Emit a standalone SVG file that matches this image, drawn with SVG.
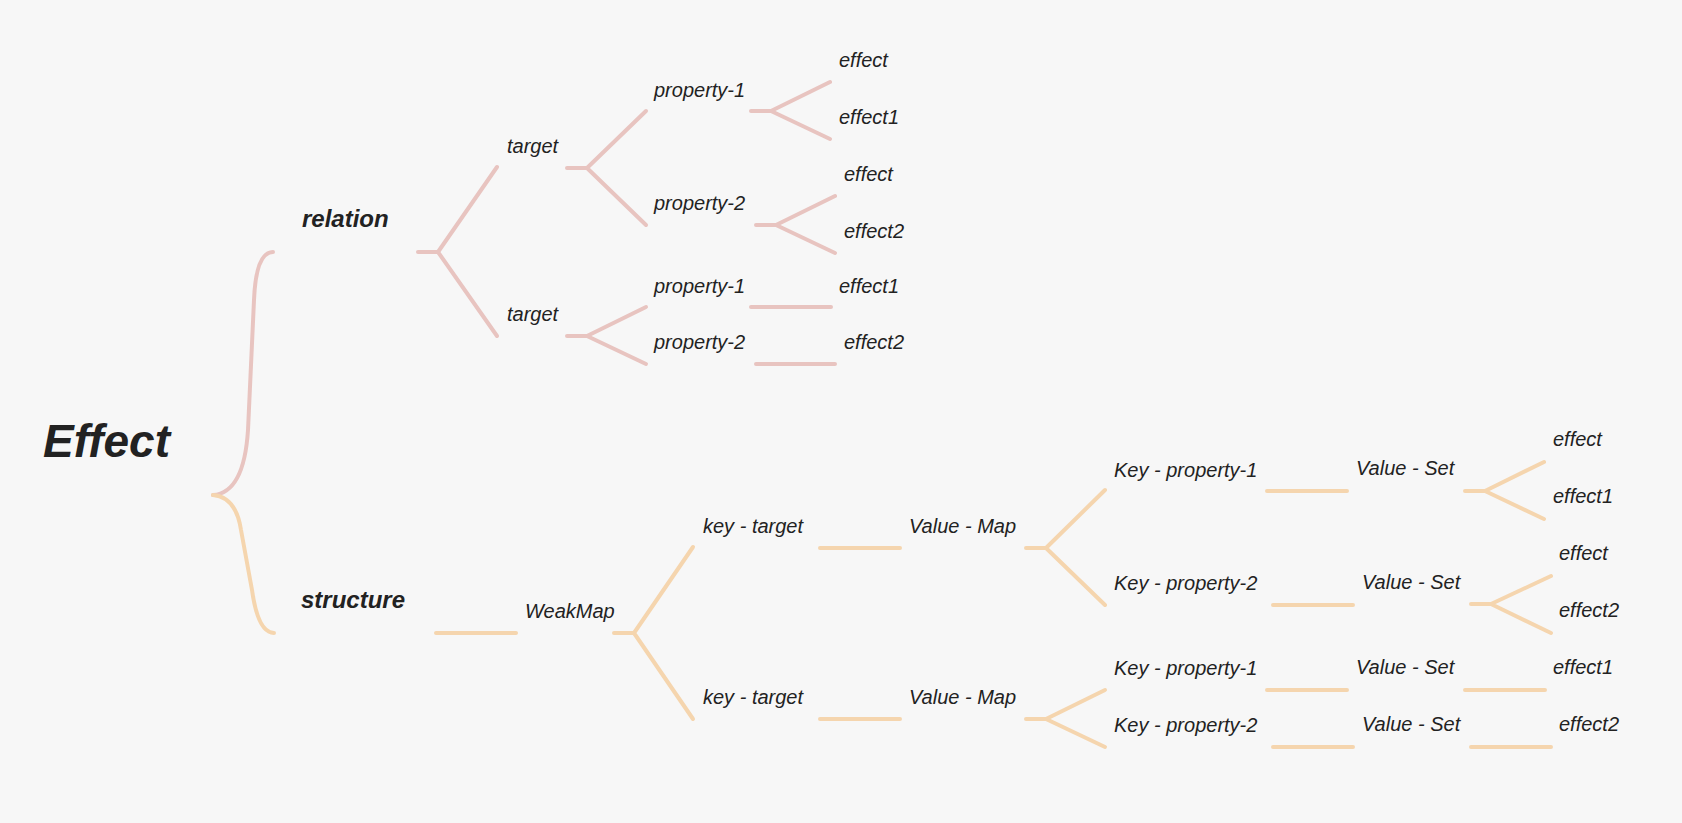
<svg xmlns="http://www.w3.org/2000/svg" width="1682" height="823" viewBox="0 0 1682 823">
<style>
text{font-family:"Liberation Sans",Arial,sans-serif;fill:#222;font-style:italic}
.lbl{font-size:20px}
.hd{font-size:24px;font-weight:bold}
.root{font-size:46px;font-weight:bold}
.pk{stroke:#E8C4C0;stroke-width:4;fill:none;stroke-linecap:round;stroke-linejoin:round}
.og{stroke:#F5D5AE;stroke-width:4;fill:none;stroke-linecap:round;stroke-linejoin:round}
</style>
<rect x="0" y="0" width="1682" height="823" fill="#F7F7F7"/>
<g id="connectors">
<path class="pk" d="M273,252 Q256,252 254,300 L248,430 Q244,493 213,495"/>
<path class="og" d="M213,495 Q236,497 241,530 L252,590 Q258,633 274,633"/>
<path class="pk" d="M418,252 H438 L497,167 M438,252 L497,336"/>
<path class="pk" d="M567,168 H587 L646,111 M587,168 L646,225"/>
<path class="pk" d="M751,111 H771 L830,82 M771,111 L830,139"/>
<path class="pk" d="M756,225 H776 L835,196 M776,225 L835,253"/>
<path class="pk" d="M567,336 H587 L646,307 M587,336 L646,364"/>
<path class="pk" d="M751,307 H831 M756,364 H835"/>
<path class="og" d="M436,633 H516"/>
<path class="og" d="M614,633 H634 L693,547 M634,633 L693,719"/>
<path class="og" d="M820,548 H900 M820,719 H900"/>
<path class="og" d="M1026,548 H1046 L1105,490 M1046,548 L1105,605"/>
<path class="og" d="M1026,719 H1046 L1105,690 M1046,719 L1105,747"/>
<path class="og" d="M1267,491 H1347 M1273,605 H1353 M1267,690 H1347 M1273,747 H1353"/>
<path class="og" d="M1465,491 H1485 L1544,462 M1485,491 L1544,519"/>
<path class="og" d="M1471,604 H1491 L1551,576 M1491,604 L1551,633"/>
<path class="og" d="M1465,690 H1545 M1471,747 H1551"/>
</g>
<g id="root"><text class="root" x="43" y="457">Effect</text></g>
<g id="relation"><text class="hd" x="302" y="227">relation</text></g>
<g id="structure"><text class="hd" x="301" y="608">structure</text></g>
<g id="r-target-1"><text class="lbl" x="507" y="153">target</text></g>
<g id="r-target-2"><text class="lbl" x="507" y="321">target</text></g>
<g id="r-t1-p1"><text class="lbl" x="654" y="97">property-1</text></g>
<g id="r-t1-p2"><text class="lbl" x="654" y="210">property-2</text></g>
<g id="r-t2-p1"><text class="lbl" x="654" y="293">property-1</text></g>
<g id="r-t2-p2"><text class="lbl" x="654" y="349">property-2</text></g>
<g id="r-e1"><text class="lbl" x="839" y="67">effect</text></g>
<g id="r-e2"><text class="lbl" x="839" y="124">effect1</text></g>
<g id="r-e3"><text class="lbl" x="844" y="181">effect</text></g>
<g id="r-e4"><text class="lbl" x="844" y="238">effect2</text></g>
<g id="r-e5"><text class="lbl" x="839" y="293">effect1</text></g>
<g id="r-e6"><text class="lbl" x="844" y="349">effect2</text></g>
<g id="weakmap"><text class="lbl" x="525" y="618">WeakMap</text></g>
<g id="s-key-1"><text class="lbl" x="703" y="533">key - target</text></g>
<g id="s-key-2"><text class="lbl" x="703" y="704">key - target</text></g>
<g id="s-map-1"><text class="lbl" x="909" y="533">Value - Map</text></g>
<g id="s-map-2"><text class="lbl" x="909" y="704">Value - Map</text></g>
<g id="s-kp-1"><text class="lbl" x="1114" y="477">Key - property-1</text></g>
<g id="s-kp-2"><text class="lbl" x="1114" y="590">Key - property-2</text></g>
<g id="s-kp-3"><text class="lbl" x="1114" y="675">Key - property-1</text></g>
<g id="s-kp-4"><text class="lbl" x="1114" y="732">Key - property-2</text></g>
<g id="s-set-1"><text class="lbl" x="1356" y="475">Value - Set</text></g>
<g id="s-set-2"><text class="lbl" x="1362" y="589">Value - Set</text></g>
<g id="s-set-3"><text class="lbl" x="1356" y="674">Value - Set</text></g>
<g id="s-set-4"><text class="lbl" x="1362" y="731">Value - Set</text></g>
<g id="s-e1"><text class="lbl" x="1553" y="446">effect</text></g>
<g id="s-e2"><text class="lbl" x="1553" y="503">effect1</text></g>
<g id="s-e3"><text class="lbl" x="1559" y="560">effect</text></g>
<g id="s-e4"><text class="lbl" x="1559" y="617">effect2</text></g>
<g id="s-e5"><text class="lbl" x="1553" y="674">effect1</text></g>
<g id="s-e6"><text class="lbl" x="1559" y="731">effect2</text></g>
</svg>
